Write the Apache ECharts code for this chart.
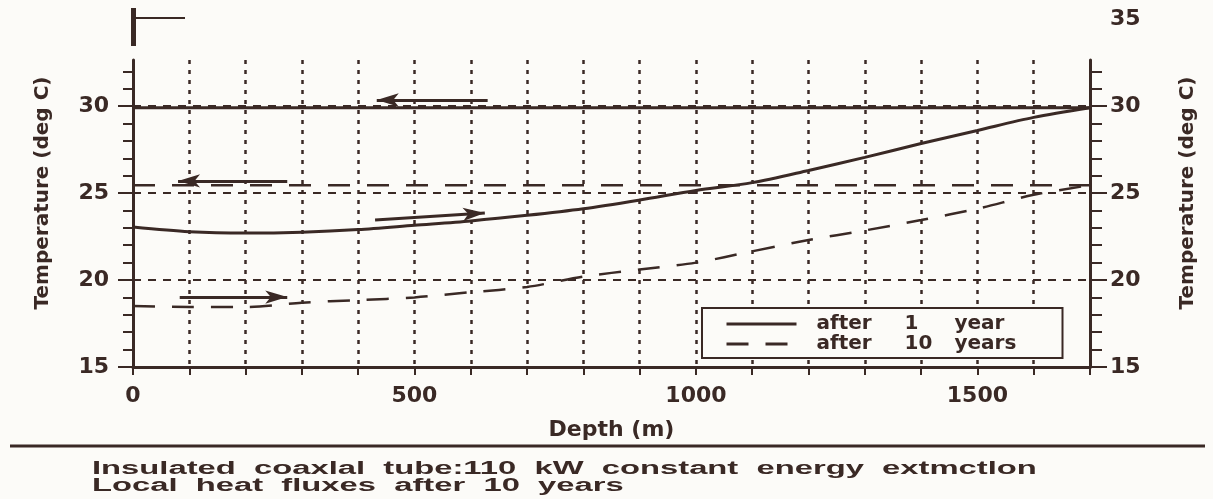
<!DOCTYPE html>
<html>
<head>
<meta charset="utf-8">
<script src="https://cdn.jsdelivr.net/npm/echarts@6/dist/echarts.min.js"></script>
<style>
  html, body { margin: 0; padding: 0; background: #fcfbf8; }
  #chart { width: 1213px; height: 499px; }
</style>
</head>
<body>
<div id="chart"></div>
<script>
// ---------- data ----------
const depth = [0, 100, 200, 300, 400, 500, 600, 700, 800, 900, 1000, 1100, 1200, 1300, 1400, 1500, 1600, 1700];
const outflow1yr  = [23.05, 22.78, 22.7, 22.75, 22.9, 23.15, 23.4, 23.72, 24.1, 24.6, 25.15, 25.6, 26.3, 27.05, 27.85, 28.6, 29.35, 29.9];
const outflow10yr = [18.5, 18.45, 18.45, 18.7, 18.85, 19.0, 19.3, 19.6, 20.2, 20.6, 21.0, 21.65, 22.3, 22.85, 23.45, 24.1, 24.9, 25.45];
const inflowDepth = [0, 1700];
const inflow1yr   = [29.9, 29.9];
const inflow10yr  = [25.45, 25.45];

const seriesNames = ['after 1 year', 'after 10 years'];
const xTickLabels = [0, 500, 1000, 1500];
const yTickLabelsLeft = [15, 20, 25, 30];
const yTickLabelsRight = [15, 20, 25, 30, 35];
const yMajorTicks = [15, 20, 25, 30];
const yMinorTicks = [15, 16, 17, 18, 19, 20, 21, 22, 23, 24, 25, 26, 27, 28, 29, 30, 31, 32];
const gridLineTemps = [20, 25, 30];
// flow-direction arrows: [tail, head] in (depth, temperature)
const arrows1yr  = [[[630, 30.35], [433, 30.35]], [[430, 23.45], [625, 23.85]]];
const arrows10yr = [[[274, 25.7], [80, 25.7]], [[83, 19.02], [274, 19.02]]];
const captionLines = [
  'Insulated  coaxlal  tube:110  kW  constant  energy  extmctlon',
  'Local  heat  fluxes  after  10  years'
];
const xName = 'Depth (m)';
const yName = 'Temperature (deg C)';

// ---------- styling ----------
const INK = '#3a2925';
const BG = '#fcfbf8';
const FONT = 'DejaVu Sans';

const zip = (xs, ys) => xs.map((x, i) => [x, ys[i]]);
const arrowData = arr => arr.map(a => [{ coord: a[0] }, { coord: a[1] }]);

const arrowMarkLine = arr => ({
  silent: true,
  symbol: ['none', 'arrow'],
  symbolSize: [10, 22],
  label: { show: false },
  lineStyle: { color: INK, width: 3, type: 'solid' },
  emphasis: { disabled: true },
  data: arrowData(arr)
});

const solid = { color: INK, width: 3, type: 'solid' };
const dashed = { color: INK, width: 2.5, type: [22, 17] };

const chart = echarts.init(document.getElementById('chart'));

const valueAxisBase = {
  type: 'value', min: 15, max: 32.65, gridIndex: 0,
  splitLine: { show: false }
};

const legendFont = { color: INK, fontFamily: FONT, fontWeight: 'bold', fontSize: 20, lineHeight: 15 };

const option = {
  animation: false,
  backgroundColor: BG,
  grid: [
    { left: 133, right: 123, top: 60, bottom: 132 },
    { left: 133, right: 123, top: 19, bottom: 132 }
  ],
  xAxis: [
    {
      type: 'value', gridIndex: 0, min: 0, max: 1700, interval: 100,
      axisLine: { lineStyle: { color: INK, width: 3 } },
      axisTick: { length: 8, lineStyle: { color: INK, width: 2 } },
      axisLabel: {
        customValues: xTickLabels, color: INK, fontFamily: FONT, fontWeight: 'bold',
        fontSize: 22, margin: 18, formatter: v => String(v)
      },
      splitLine: { show: true, lineStyle: { color: INK, width: 2.5, type: [4, 6] } },
      name: xName, nameLocation: 'middle', nameGap: 52,
      nameTextStyle: { color: INK, fontFamily: FONT, fontWeight: 'bold', fontSize: 22 }
    },
    { type: 'value', gridIndex: 1, min: 0, max: 1700, show: false }
  ],
  yAxis: [
    Object.assign({}, valueAxisBase, {
      position: 'left',
      axisLine: { show: true, lineStyle: { color: INK, width: 3 } },
      axisTick: { show: true, customValues: yMinorTicks, length: 10, lineStyle: { color: INK, width: 2 } },
      axisLabel: { show: false }
    }),
    Object.assign({}, valueAxisBase, {
      position: 'left',
      axisLine: { show: false },
      axisTick: { show: true, customValues: yMajorTicks, length: 15, lineStyle: { color: INK, width: 2 } },
      axisLabel: {
        customValues: yTickLabelsLeft, color: INK, fontFamily: FONT, fontWeight: 'bold',
        fontSize: 22, margin: 24
      }
    }),
    Object.assign({}, valueAxisBase, {
      position: 'right',
      axisLine: { show: true, lineStyle: { color: INK, width: 3 } },
      axisTick: { show: true, customValues: yMinorTicks, length: 12, lineStyle: { color: INK, width: 2 } },
      axisLabel: { show: false }
    }),
    Object.assign({}, valueAxisBase, {
      position: 'right',
      axisLine: { show: false },
      axisTick: { show: true, customValues: yMajorTicks, length: 17, lineStyle: { color: INK, width: 2 } },
      axisLabel: { show: false }
    }),
    {
      type: 'value', gridIndex: 1, min: 15, max: 35, position: 'left',
      axisLine: { show: false }, axisTick: { show: false }, axisLabel: { show: false },
      splitLine: { show: false },
      name: yName, nameLocation: 'middle', nameRotate: 90, nameGap: 80,
      nameTextStyle: { color: INK, fontFamily: FONT, fontWeight: 'bold', fontSize: 20 }
    },
    {
      type: 'value', gridIndex: 1, min: 15, max: 35, position: 'right',
      axisLine: { show: false }, axisTick: { show: false },
      axisLabel: {
        customValues: yTickLabelsRight, color: INK, fontFamily: FONT, fontWeight: 'bold',
        fontSize: 22, margin: 20
      },
      splitLine: { show: false },
      name: yName, nameLocation: 'middle', nameRotate: 90, nameGap: 88,
      nameTextStyle: { color: INK, fontFamily: FONT, fontWeight: 'bold', fontSize: 20 }
    }
  ],
  legend: {
    data: seriesNames,
    orient: 'vertical',
    left: 702, top: 308,
    padding: [6, 8, 4, 23],
    itemWidth: 70, itemHeight: 12, itemGap: 0,
    borderColor: INK, borderWidth: 2, borderRadius: 0,
    backgroundColor: BG,
    selectedMode: false,
    itemStyle: { opacity: 0 },
    lineStyle: { width: 3 },
    z: 10,
    textStyle: Object.assign({}, legendFont, {
      rich: {
        a: Object.assign({ width: 88, padding: [0, 0, 0, 15] }, legendFont),
        b: Object.assign({ width: 50 }, legendFont),
        c: Object.assign({ width: 100 }, legendFont)
      }
    }),
    formatter: name => {
      const p = name.split(' ');
      return '{a|' + p[0] + '}{b|' + p[1] + '}{c|' + p.slice(2).join(' ') + '}';
    }
  },
  series: [
    {
      name: seriesNames[0], type: 'line', xAxisIndex: 0, yAxisIndex: 0,
      data: zip(inflowDepth, inflow1yr), symbol: 'none', lineStyle: solid, color: INK,
      markLine: arrowMarkLine(arrows1yr)
    },
    {
      name: seriesNames[0], type: 'line', xAxisIndex: 0, yAxisIndex: 0,
      data: zip(depth, outflow1yr), symbol: 'none', smooth: 0.3, lineStyle: solid, color: INK
    },
    {
      name: seriesNames[1], type: 'line', xAxisIndex: 0, yAxisIndex: 0,
      data: zip(inflowDepth, inflow10yr), symbol: 'none', lineStyle: dashed, color: INK,
      markLine: arrowMarkLine(arrows10yr)
    },
    {
      name: seriesNames[1], type: 'line', xAxisIndex: 0, yAxisIndex: 0,
      data: zip(depth, outflow10yr), symbol: 'none', smooth: 0.3, lineStyle: dashed, color: INK
    },
    {
      name: 'grid', type: 'line', xAxisIndex: 0, yAxisIndex: 0, data: [],
      markLine: {
        silent: true, symbol: ['none', 'none'], label: { show: false },
        lineStyle: { color: INK, width: 2, type: [8, 7] },
        emphasis: { disabled: true },
        data: gridLineTemps.map(v => ({ yAxis: v }))
      }
    }
  ],
  graphic: [
    { type: 'rect', shape: { x: 131, y: 8, width: 5, height: 38 }, style: { fill: INK } },
    { type: 'line', shape: { x1: 133, y1: 18, x2: 185, y2: 18 }, style: { stroke: INK, lineWidth: 2 } },
    { type: 'line', shape: { x1: 10, y1: 446, x2: 1205, y2: 446 }, style: { stroke: INK, lineWidth: 3 } },
    {
      type: 'text', x: 92, y: 469, scaleX: 1.82,
      style: { text: captionLines[0], fill: INK, font: 'bold 18px "Liberation Sans"', verticalAlign: 'middle' }
    },
    {
      type: 'text', x: 92, y: 486, scaleX: 1.82,
      style: { text: captionLines[1], fill: INK, font: 'bold 18px "Liberation Sans"', verticalAlign: 'middle' }
    }
  ]
};

chart.setOption(option);
</script>
</body>
</html>
